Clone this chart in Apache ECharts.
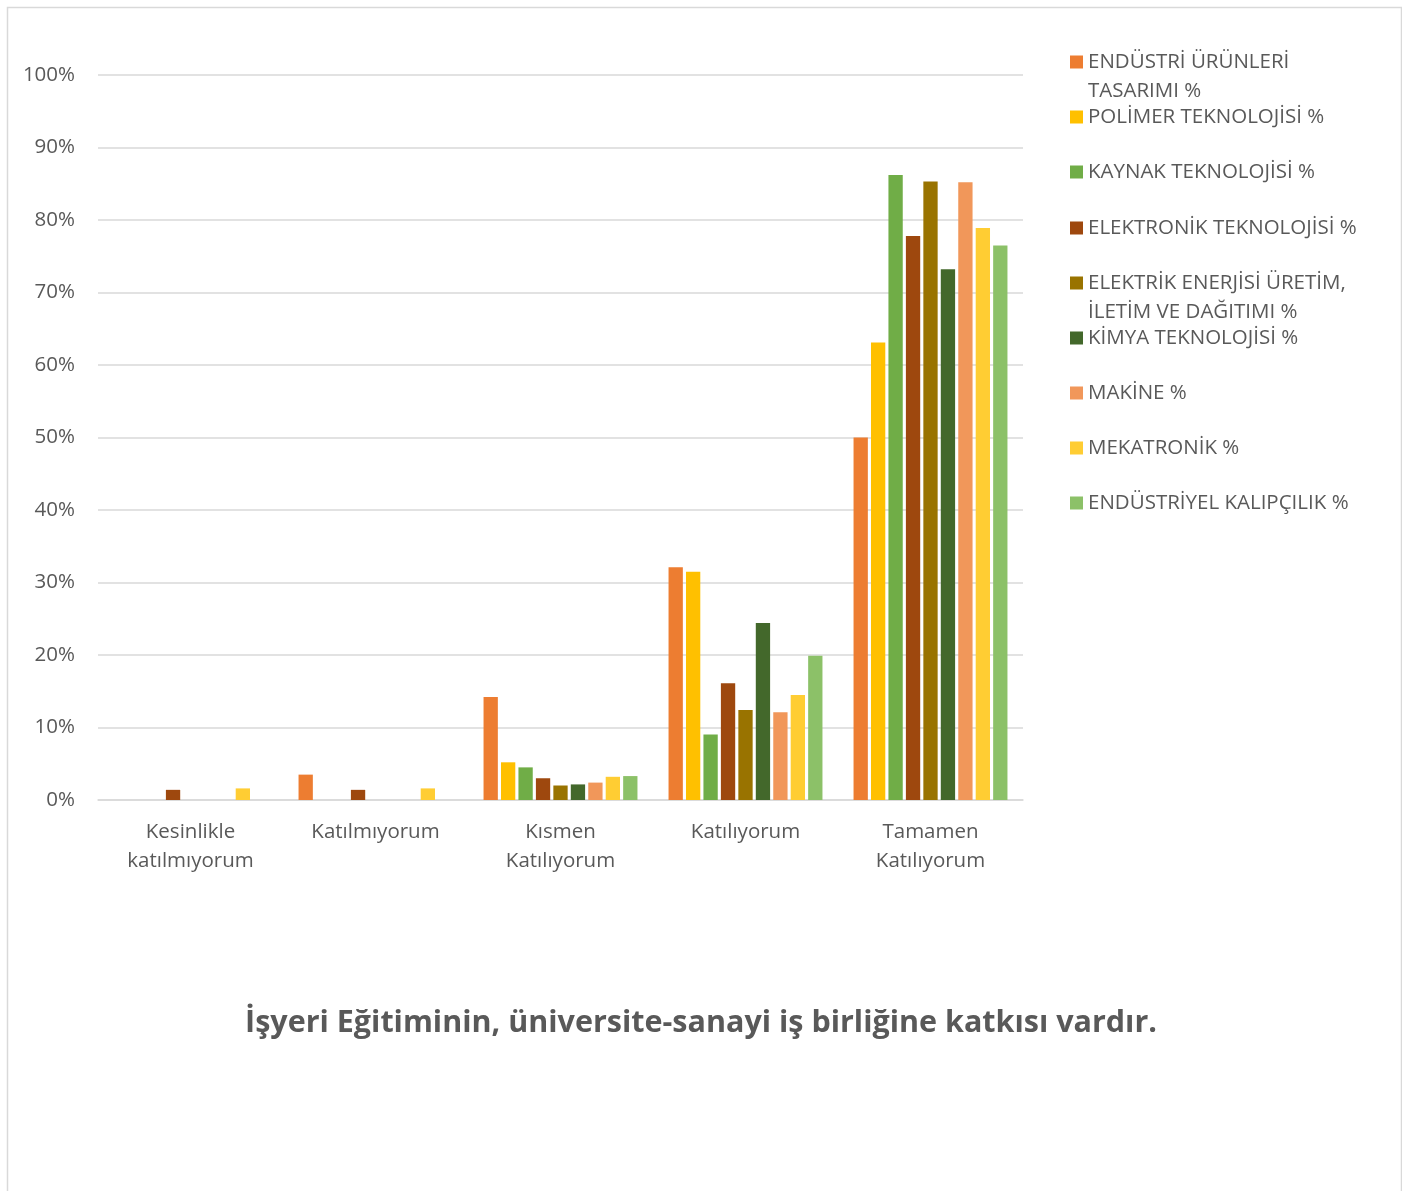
<!DOCTYPE html>
<html>
<head>
<meta charset="utf-8">
<script src="https://cdn.jsdelivr.net/npm/echarts@6/dist/echarts.min.js"></script>
<style>
html,body{margin:0;padding:0;background:#fff;}
#chart{width:1402px;height:1191px;}
</style>
</head>
<body>
<div id="chart"></div>
<script>
const categories = ['Kesinlikle\nkatılmıyorum', 'Katılmıyorum', 'Kısmen\nKatılıyorum', 'Katılıyorum', 'Tamamen\nKatılıyorum'];
const seriesNames = [
  'ENDÜSTRİ ÜRÜNLERİ TASARIMI %',
  'POLİMER TEKNOLOJİSİ %',
  'KAYNAK TEKNOLOJİSİ %',
  'ELEKTRONİK TEKNOLOJİSİ %',
  'ELEKTRİK ENERJİSİ ÜRETİM, İLETİM VE DAĞITIMI %',
  'KİMYA TEKNOLOJİSİ %',
  'MAKİNE %',
  'MEKATRONİK %',
  'ENDÜSTRİYEL KALIPÇILIK %'
];
const legendFirstLines = [
  'ENDÜSTRİ ÜRÜNLERİ',
  'POLİMER TEKNOLOJİSİ %',
  'KAYNAK TEKNOLOJİSİ %',
  'ELEKTRONİK TEKNOLOJİSİ %',
  'ELEKTRİK ENERJİSİ ÜRETİM,',
  'KİMYA TEKNOLOJİSİ %',
  'MAKİNE %',
  'MEKATRONİK %',
  'ENDÜSTRİYEL KALIPÇILIK %'
];
const legendSecondLines = ['TASARIMI %', '', '', '', 'İLETİM VE DAĞITIMI %', '', '', '', ''];
const colors = ['#ED7D31', '#FFC000', '#70AD47', '#9E480E', '#997300', '#43682B', '#F1975A', '#FFCD33', '#8CC168'];

const endustriUrunleri = [0, 3.5, 14.2, 32.1, 50.0];
const polimer = [0, 0, 5.2, 31.5, 63.1];
const kaynak = [0, 0, 4.5, 9.05, 86.2];
const elektronik = [1.4, 1.4, 3.0, 16.1, 77.8];
const elektrik = [0, 0, 2.0, 12.4, 85.3];
const kimya = [0, 0, 2.15, 24.4, 73.2];
const makine = [0, 0, 2.4, 12.1, 85.2];
const mekatronik = [1.6, 1.6, 3.2, 14.5, 78.9];
const kalipcilik = [0, 0, 3.3, 19.9, 76.5];
const seriesData = [endustriUrunleri, polimer, kaynak, elektronik, elektrik, kimya, makine, mekatronik, kalipcilik];

const yTicks = [0, 10, 20, 30, 40, 50, 60, 70, 80, 90, 100];
const title = 'İşyeri Eğitiminin, üniversite-sanayi iş birliğine katkısı vardır.';

const FONT = '"Open Sans", sans-serif';
const TXT = '#595959';

const chart = echarts.init(document.getElementById('chart'), null, {renderer: 'canvas'});

const legendCenters = [60, 115, 170, 226, 281, 336, 391, 446, 501];
const legends = seriesNames.map((n, i) => ({
  show: true,
  left: 1070,
  top: legendCenters[i] - 9,
  padding: 0,
  orient: 'vertical',
  data: [n],
  icon: 'rect',
  itemWidth: 13,
  itemHeight: 13,
  itemGap: 0,
  selectedMode: false,
  formatter: () => legendFirstLines[i],
  textStyle: {color: TXT, fontSize: 20.5, fontFamily: FONT, lineHeight: 22}
}));

const graphics = [
  {type: 'rect', left: 5, top: 5, shape: {width: 1394, height: 1200}, style: {fill: 'none', stroke: '#D9D9D9', lineWidth: 1.5}, silent: true},
  {type: 'text', left: 'center', top: 1008, style: {text: title, fill: TXT, font: 'bold 30.5px ' + FONT}}
];
legendSecondLines.forEach((t, i) => {
  if (t) graphics.push({type: 'text', left: 1088, top: legendCenters[i] + 29 - 9, style: {text: t, fill: TXT, font: '20.5px ' + FONT, lineHeight: 22}});
});

const option = {
  animation: false,
  color: colors,
  legend: legends,
  graphic: graphics,
  grid: {left: 98, right: 379, top: 75, bottom: 391, containLabel: false},
  xAxis: {
    type: 'category',
    data: categories,
    axisLine: {show: true, lineStyle: {color: '#D9D9D9', width: 1.5}},
    axisTick: {show: false},
    axisLabel: {color: TXT, fontSize: 20.5, fontFamily: FONT, lineHeight: 29, margin: 18, interval: 0}
  },
  yAxis: {
    type: 'value',
    min: 0,
    max: 100,
    interval: 10,
    axisLine: {show: false},
    axisTick: {show: false},
    axisLabel: {color: TXT, fontSize: 20.5, fontFamily: FONT, margin: 23, formatter: v => yTicks.includes(v) ? v + '%' : ''},
    splitLine: {lineStyle: {color: '#D9D9D9', width: 1.5}}
  },
  series: seriesNames.map((n, i) => ({
    name: n,
    type: 'bar',
    data: seriesData[i],
    barGap: '22%',
    barCategoryGap: '16.8%',
    itemStyle: {color: colors[i]}
  }))
};
chart.setOption(option);
</script>
</body>
</html>
